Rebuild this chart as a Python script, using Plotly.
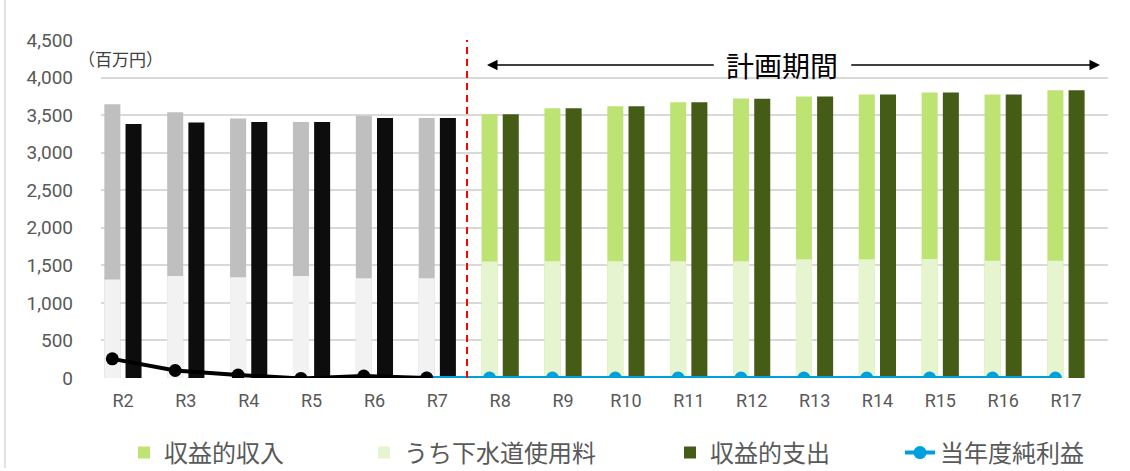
import plotly.graph_objects as go

labels = ["R2", "R3", "R4", "R5", "R6", "R7", "R8", "R9", "R10", "R11",
          "R12", "R13", "R14", "R15", "R16", "R17"]
income = [3646, 3537, 3456, 3407, 3491, 3460, 3513, 3591, 3617, 3670,
          3720, 3748, 3776, 3800, 3776, 3830]
sewage_fee = [1311, 1359, 1342, 1359, 1328, 1328, 1550, 1555, 1555, 1555,
              1555, 1580, 1580, 1585, 1560, 1560]
expense = [3380, 3403, 3407, 3407, 3460, 3460, 3513, 3591, 3617, 3670,
           3717, 3748, 3776, 3800, 3776, 3830]
net_profit = [255, 100, 40, -5, 25, 0, 0, 0, 0, 0, 0, 0, 0, 0, 0, 0]
plan_start = 6  # index of R8, first year of the planning period

idx = list(range(len(labels)))
past = idx[:plan_start]
future = idx[plan_start:]

BW = 0.255
OFF_IN = -0.297
OFF_EX = 0.040
LINE_SHIFT = -0.17

FONT = "Roboto, Noto Sans CJK JP, sans-serif"
JFONT = "Noto Sans CJK JP, sans-serif"

fig = go.Figure()

# past bars (grey / black)
fig.add_trace(go.Bar(x=past, y=income[:plan_start], width=BW, offset=OFF_IN,
                     marker=dict(color="#BFBFBF", line=dict(width=0)),
                     showlegend=False, hoverinfo="skip"))
fig.add_trace(go.Bar(x=past, y=sewage_fee[:plan_start], width=BW, offset=OFF_IN,
                     marker=dict(color="#F2F2F2", line=dict(width=0)),
                     showlegend=False, hoverinfo="skip"))
fig.add_trace(go.Bar(x=past, y=expense[:plan_start], width=BW, offset=OFF_EX,
                     marker=dict(color="#0D0D0D", line=dict(width=0)),
                     showlegend=False, hoverinfo="skip"))

# planned bars (greens)
fig.add_trace(go.Bar(x=future, y=income[plan_start:], width=BW, offset=OFF_IN,
                     name="収益的収入", legend="legend",
                     marker=dict(color="#BDE473", line=dict(width=0))))
fig.add_trace(go.Bar(x=future, y=sewage_fee[plan_start:], width=BW, offset=OFF_IN,
                     name="うち下水道使用料", legend="legend2",
                     marker=dict(color="#E6F5D0", line=dict(width=0))))
fig.add_trace(go.Bar(x=future, y=expense[plan_start:], width=BW, offset=OFF_EX,
                     name="収益的支出", legend="legend3",
                     marker=dict(color="#445C16", line=dict(width=0))))

# net profit lines
fx = [i + LINE_SHIFT for i in idx[plan_start - 1:]]
fig.add_trace(go.Scatter(x=fx, y=net_profit[plan_start - 1:], mode="lines+markers",
                         name="当年度純利益", legend="legend4",
                         line=dict(color="#00A0DC", width=4),
                         marker=dict(color="#00A0DC", size=13)))
px_ = [i + LINE_SHIFT for i in past]
fig.add_trace(go.Scatter(x=px_, y=net_profit[:plan_start], mode="lines+markers",
                         showlegend=False, hoverinfo="skip",
                         line=dict(color="#000000", width=4),
                         marker=dict(color="#000000", size=13)))

L, R, T, B = 101, 22, 40, 93
W, H = 1130, 471
pw = W - L - R
ph = H - T - B

def px2paper_x(p):
    return (p - L) / pw

def py2paper_y(p):
    return (H - B - p) / ph

legend_common = dict(orientation="h", yanchor="middle", yref="container",
                     y=(H - 453) / H, xref="container", xanchor="left",
                     font=dict(family=JFONT, size=24, color="#595959"),
                     bgcolor="rgba(0,0,0,0)", itemwidth=30, itemclick=False)

fig.update_layout(
    width=W, height=H, autosize=False,
    margin=dict(l=L, r=R, t=T, b=B, autoexpand=False),
    paper_bgcolor="white", plot_bgcolor="white",
    barmode="overlay",
    font=dict(family=FONT, size=18, color="#595959"),
    xaxis=dict(range=[-0.35, 15.667], tickmode="array", tickvals=idx, ticktext=labels,
               showgrid=False, zeroline=False, showline=False, ticks="",
               ticklabelstandoff=10, tickfont=dict(size=18, color="#595959")),
    yaxis=dict(range=[0, 4500], tickmode="array",
               tickvals=list(range(0, 4501, 500)),
               ticktext=[f"{v:,}" for v in range(0, 4501, 500)],
               showgrid=True, gridcolor="#D9D9D9", gridwidth=1.5,
               zeroline=False, showline=False, ticks="",
               ticklabelstandoff=27, tickfont=dict(size=19, color="#595959")),
    legend=dict(x=124 / W, **legend_common),
    legend2=dict(x=364 / W, **legend_common),
    legend3=dict(x=670 / W, **legend_common),
    legend4=dict(x=900 / W, **legend_common),
)

# planning period divider
fig.add_shape(type="line", xref="x", yref="y", x0=5.472, x1=5.472, y0=0, y1=4500,
              line=dict(color="#FF0000", width=2, dash="7px,5px"))

# planning period arrows and label
arrow_y = 4166
fig.add_annotation(x=5.79, y=arrow_y, ax=9.42, ay=arrow_y, xref="x", yref="y",
                   axref="x", ayref="y", text="", showarrow=True,
                   arrowhead=2, arrowsize=1.4, arrowwidth=1.5, arrowcolor="#000000")
fig.add_annotation(x=15.54, y=arrow_y, ax=11.56, ay=arrow_y, xref="x", yref="y",
                   axref="x", ayref="y", text="", showarrow=True,
                   arrowhead=2, arrowsize=1.4, arrowwidth=1.5, arrowcolor="#000000")
fig.add_annotation(x=10.48, y=arrow_y, xref="x", yref="y", text="計画期間",
                   showarrow=False, font=dict(family=JFONT, size=28, color="#000000"))

# unit label (kept clear of the tick labels on its left)
fig.add_annotation(x=px2paper_x(76), y=py2paper_y(59), xref="paper", yref="paper",
                   text="（百万円）", showarrow=False, xanchor="left", yanchor="middle",
                   font=dict(family=JFONT, size=17, color="#404040"))

# chart frame (left edge visible in the reference)
fig.add_shape(type="line", xref="paper", yref="paper",
              x0=px2paper_x(5), x1=px2paper_x(5), y0=py2paper_y(468), y1=py2paper_y(-20),
              line=dict(color="#D9D9D9", width=1.5), layer="below")

fig.write_html("out.html", config={"displayModeBar": False},
               post_script="document.body.style.margin='0';"
                           "document.body.style.overflow='hidden';")
